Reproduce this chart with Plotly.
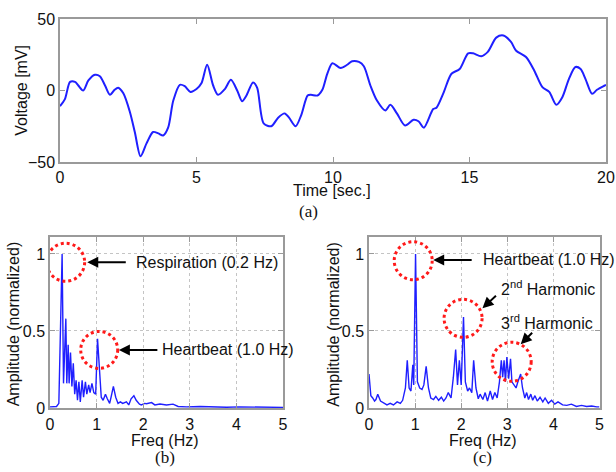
import plotly.graph_objects as go

# ---------------- data ----------------
time_s = [0, 0.18, 0.37, 0.55, 0.67, 0.85, 1.04, 1.28, 1.46, 1.65,
          1.83, 2.0, 2.13, 2.32, 2.56, 2.74, 2.95, 3.17, 3.41, 3.6,
          3.78, 3.96, 4.15, 4.39, 4.57, 4.78, 5.0, 5.18, 5.39, 5.61,
          5.79, 6.04, 6.26, 6.49, 6.67, 6.83, 7.07, 7.22, 7.46, 7.74,
          7.99, 8.23, 8.39, 8.63, 8.84, 9.07, 9.19, 9.43, 9.61, 9.79,
          9.98, 10.28, 10.52, 10.7, 10.95, 11.13, 11.37, 11.61, 11.92, 12.1,
          12.34, 12.64, 12.95, 13.13, 13.33, 13.67, 13.79, 14.04, 14.34, 14.64,
          14.95, 15.13, 15.43, 15.67, 15.98, 16.24, 16.52, 16.7, 17.07, 17.37,
          17.67, 17.92, 18.18, 18.4, 18.64, 18.88, 19.07, 19.25, 19.49, 19.67,
          19.95, 20.0]
voltage_mv = [-11, -6, 6, 6, 3.5, 0, 7, 11, 10, 3.5,
              -3, 0.5, 2, -2, -15, -29, -46, -37, -29, -30,
              -31.5, -26, -7, 4, 3, -1, 1, 5, 18, 3.5,
              -3, 1, 7.5, 0, -7.5, -3.5, 5.6, 2, -23, -25,
              -19, -16, -19, -25, -17, -3.5, -3, -3.5, 0.5, 11.7,
              19, 15.7, 18, 20.5, 20, 17, 3.5, -7, -14, -10,
              -16, -24.5, -20.5, -21.5, -26, -13, -12, -2, 11.7, 15,
              26, 26, 24, 27, 37, 38.5, 34, 28, 23.4, 14,
              2.3, -1, -10, -4.7, 8, 16.4, 15, 8, -2.3, 0.5,
              3.5, 4]

freq_b = [0.0, 0.14, 0.19, 0.22, 0.26, 0.29, 0.34, 0.36, 0.39, 0.41,
          0.44, 0.47, 0.50, 0.53, 0.56, 0.59, 0.62, 0.65, 0.69, 0.72,
          0.76, 0.79, 0.83, 0.86, 0.90, 0.94, 0.98, 1.02, 1.06, 1.10,
          1.14, 1.19, 1.23, 1.28, 1.31, 1.36, 1.41, 1.46, 1.51, 1.56,
          1.64, 1.69, 1.74, 1.80, 1.85, 1.92, 1.96, 2.03, 2.07, 2.10,
          2.18, 2.25, 2.36, 2.50, 2.64, 2.75, 2.93, 3.22, 3.50, 3.79,
          4.07, 4.36, 4.64, 4.93, 5.0]
amp_b = [0.007, 0.01, 0.03, 0.44, 1.0, 0.16, 0.58, 0.16, 0.41, 0.16,
         0.36, 0.14, 0.29, 0.09, 0.18, 0.05, 0.17, 0.04, 0.18, 0.07,
         0.17, 0.09, 0.15, 0.10, 0.16, 0.10, 0.09, 0.45, 0.26, 0.07,
         0.05, 0.09, 0.06, 0.03, 0.07, 0.14, 0.07, 0.03, 0.04, 0.03,
         0.04, 0.02, 0.06, 0.08, 0.05, 0.025, 0.02, 0.03, 0.028, 0.03,
         0.035, 0.02, 0.026, 0.02, 0.025, 0.01, 0.007, 0.01, 0.007, 0.005,
         0.007, 0.005, 0.005, 0.004, 0.004]

freq_c = [0.0, 0.04, 0.08, 0.12, 0.15, 0.19, 0.25, 0.32, 0.39, 0.46,
          0.53, 0.61, 0.68, 0.73, 0.79, 0.83, 0.87, 0.91, 0.95, 0.97,
          1.01, 1.05, 1.10, 1.15, 1.19, 1.24, 1.29, 1.34, 1.40, 1.45,
          1.51, 1.57, 1.62, 1.67, 1.72, 1.78, 1.83, 1.88, 1.92, 1.96,
          2.00, 2.05, 2.09, 2.14, 2.18, 2.23, 2.27, 2.32, 2.37, 2.41,
          2.47, 2.52, 2.57, 2.63, 2.68, 2.73, 2.78, 2.83, 2.87, 2.90,
          2.93, 2.96, 2.99, 3.03, 3.07, 3.10, 3.15, 3.19, 3.23, 3.29,
          3.33, 3.38, 3.42, 3.46, 3.51, 3.55, 3.60, 3.65, 3.71, 3.77,
          3.82, 3.89, 3.96, 4.03, 4.10, 4.20, 4.29, 4.39, 4.50, 4.61,
          4.72, 4.83, 4.94, 5.0]
amp_c = [0.22, 0.08, 0.065, 0.045, 0.055, 0.09, 0.045, 0.03, 0.02, 0.03,
         0.02, 0.04, 0.03, 0.05, 0.13, 0.31, 0.13, 0.11, 0.28, 0.15,
         1.0, 0.17, 0.13, 0.12, 0.15, 0.27, 0.13, 0.065, 0.055, 0.075,
         0.05, 0.07, 0.045, 0.065, 0.10, 0.065, 0.20, 0.38, 0.15, 0.31,
         0.15, 0.59, 0.17, 0.11, 0.13, 0.10, 0.31, 0.13, 0.06, 0.09,
         0.055, 0.10, 0.045, 0.11, 0.055, 0.10, 0.065, 0.17, 0.31, 0.20,
         0.31, 0.17, 0.33, 0.19, 0.32, 0.17, 0.15, 0.13, 0.17, 0.22,
         0.13, 0.065, 0.10, 0.055, 0.09, 0.05, 0.08, 0.045, 0.07, 0.04,
         0.065, 0.03, 0.05, 0.025, 0.04, 0.02, 0.017, 0.025, 0.01, 0.017,
         0.01, 0.013, 0.007, 0.007]

time_ticks = [0, 5, 10, 15, 20]
volt_ticks = [-50, 0, 50]
freq_ticks = [0, 1, 2, 3, 4, 5]
amp_ticks = [0, 0.5, 1]
amp_tick_text = ["0", "0.5", "1"]

# ---------------- layout helpers ----------------
W, H = 616, 472
def fx(x):
    return x / W
def fy(y):
    return 1 - y / H

FONT = "Liberation Sans, Arial, sans-serif"
SERIF = "Liberation Serif, Times New Roman, serif"
FRAME = "#9a9a9a"
BLUE = "#1f1fff"

fig = go.Figure()
fig.add_trace(go.Scatter(x=time_s, y=voltage_mv, mode="lines",
                         line=dict(color=BLUE, width=2, shape="spline", smoothing=0.8),
                         xaxis="x", yaxis="y", showlegend=False))
fig.add_trace(go.Scatter(x=freq_b, y=amp_b, mode="lines",
                         line=dict(color=BLUE, width=1.4),
                         xaxis="x2", yaxis="y2", showlegend=False))
fig.add_trace(go.Scatter(x=freq_c, y=amp_c, mode="lines",
                         line=dict(color=BLUE, width=1.4),
                         xaxis="x3", yaxis="y3", showlegend=False))

def axis_common(**kw):
    d = dict(showline=True, linecolor=FRAME, linewidth=1.5, mirror="ticks",
             ticks="inside", ticklen=5, tickcolor=FRAME, zeroline=False,
             automargin=False,
             tickfont=dict(family=FONT, size=16, color="#111"))
    d.update(kw)
    return d

GRID = dict(showgrid=True, gridcolor="#c4c4c4", griddash="dot", gridwidth=1)

fig.update_layout(
    width=W, height=H,
    margin=dict(l=0, r=0, t=0, b=0, pad=0, autoexpand=False),
    paper_bgcolor="white", plot_bgcolor="white",
    xaxis=axis_common(domain=[fx(60), fx(606)], range=[0, 20], tickvals=time_ticks,
                      showgrid=False, anchor="y"),
    yaxis=axis_common(domain=[fy(162), fy(19)], range=[-50, 50], tickvals=volt_ticks,
                      showgrid=False, anchor="x"),
    xaxis2=axis_common(domain=[fx(50), fx(283)], range=[0, 5], tickvals=freq_ticks,
                       anchor="y2", ticklabelstandoff=1, **GRID),
    yaxis2=axis_common(domain=[fy(408), fy(237)], range=[0, 1.11], tickvals=amp_ticks,
                       ticktext=amp_tick_text, anchor="x2", **GRID),
    xaxis3=axis_common(domain=[fx(369), fx(599.5)], range=[0, 5], tickvals=freq_ticks,
                       anchor="y3", ticklabelstandoff=1, **GRID),
    yaxis3=axis_common(domain=[fy(408), fy(237)], range=[0, 1.11], tickvals=amp_ticks,
                       ticktext=amp_tick_text, anchor="x3", **GRID),
)

annotations = []
def label(text, x, y, size=16, angle=0, family=FONT, xanchor="center"):
    annotations.append(dict(text=text, x=fx(x), y=fy(y), xref="paper", yref="paper",
                            showarrow=False, textangle=angle, xanchor=xanchor, yanchor="middle",
                            borderpad=0,
                            font=dict(family=family, size=size, color="#111")))

# axis titles and captions
label("Voltage [mV]", 21.7, 90, angle=-90)
label("Time [sec.]", 332, 190)
label("(a)", 308, 211, size=17, family=SERIF)
label("Amplitude (normalized)", 13.3, 324, angle=-90)
label("Freq (Hz)", 165.3, 440)
label("(b)", 165, 457, size=17, family=SERIF)
label("Amplitude (normalized)", 332.7, 324, angle=-90)
label("Freq (Hz)", 482.7, 440)
label("(c)", 482, 457, size=17, family=SERIF)

def arrow(xr, yr, x, y, ax, ay):
    annotations.append(dict(x=x, y=y, xref=xr, yref=yr, ax=ax, ay=ay, text="",
                            showarrow=True, arrowhead=2, arrowsize=1.1, arrowwidth=2,
                            arrowcolor="black", standoff=0))

def note(xr, yr, x, y, text):
    annotations.append(dict(x=x, y=y, xref=xr, yref=yr, text=text, showarrow=False,
                            xanchor="left", yanchor="middle", borderpad=0,
                            font=dict(family=FONT, size=16, color="#111")))

# (b) annotations
arrow("x2", "y2", 0.80, 0.946, 40, 0)
note("x2", "y2", 1.82, 0.946, "Respiration (0.2 Hz)")
arrow("x2", "y2", 1.478, 0.377, 40, 0)
note("x2", "y2", 2.39, 0.377, "Heartbeat (1.0 Hz)")

# (c) annotations
arrow("x3", "y3", 1.392, 0.961, 40, 0)
note("x3", "y3", 2.45, 0.961, "Heartbeat (1.0 Hz)")
arrow("x3", "y3", 2.461, 0.647, 15, -14)
note("x3", "y3", 2.835, 0.777, "2<sup>nd</sup> Harmonic")
arrow("x3", "y3", 3.29, 0.414, 13, -13)
note("x3", "y3", 2.842, 0.56, "3<sup>rd</sup> Harmonic")

fig.update_layout(annotations=annotations)

# red dotted circles (pixel-sized, anchored at data points)
def circle(xr, yr, cx, cy, r=19):
    fig.add_shape(type="circle", xref=xr, yref=yr, xsizemode="pixel", ysizemode="pixel",
                  xanchor=cx, yanchor=cy, x0=-r, x1=r, y0=-r, y1=r,
                  line=dict(color="#ff1a1a", width=3, dash="dot"))

circle("x2", "y2", 0.336, 0.946)
circle("x2", "y2", 1.056, 0.377, 18.5)
circle("x3", "y3", 0.959, 0.956)
circle("x3", "y3", 2.041, 0.582)
circle("x3", "y3", 3.095, 0.30, 19.5)

fig.write_html("out.html", config={"displayModeBar": False},
               post_script="document.body.style.margin='0';document.body.style.overflow='hidden';")
